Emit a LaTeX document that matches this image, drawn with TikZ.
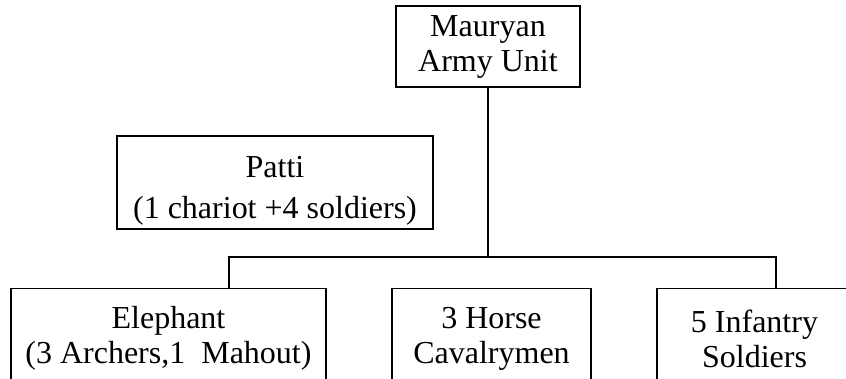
\documentclass[tikz,border=0pt]{standalone}
\usepackage{fontspec}
\setmainfont{Liberation Serif}
\usepackage{tikz}
\tikzset{
	unitbox/.style  = {shape=rectangle, draw, line width=1.4pt, align=center,
		inner sep=0pt},
	rootbox/.style  = {unitbox, minimum width=184pt, minimum height=81pt},
	sidebox/.style  = {unitbox, minimum width=316pt, minimum height=93pt},
	leafbox/.style  = {unitbox, anchor=north, minimum height=100pt},
	link/.style     = {draw, line width=1.4pt}
}

\begin{document}
\begin{tikzpicture}
[
x = 1pt, y = 1pt,
every node/.style = {font=\fontsize{32}{35}\selectfont}
]
\useasboundingbox (0,0) rectangle (846,379);
\clip (0,0) rectangle (846,379);
% units of the army
\node [rootbox] (army) at (488,332.5) {Mauryan\\Army Unit};
\node [sidebox] (patti) at (275,196.5) {\rule{0pt}{38pt}Patti\\[6pt](1 chariot +4 soldiers)};
\node [leafbox, minimum width=315pt] (elephant) at (168.5,91) {Elephant\\(3 Archers,1~~Mahout)};
\node [leafbox, minimum width=199pt] (horse) at (491.5,91) {3 Horse\\Cavalrymen};
\node [leafbox, minimum width=220pt] (infantry) at (767,91) {\hspace*{-25pt}5 Infantry\\\hspace*{-25pt}Soldiers};
% connectors
\coordinate (barl) at (229,122);
\coordinate (barr) at (776,122);
\draw [link] (army.south) -- (army.south |- barl);
\draw [link] (elephant.north -| barl) -- (barl) -- (barr) -- (infantry.north -| barr);
\end{tikzpicture}
\end{document}
